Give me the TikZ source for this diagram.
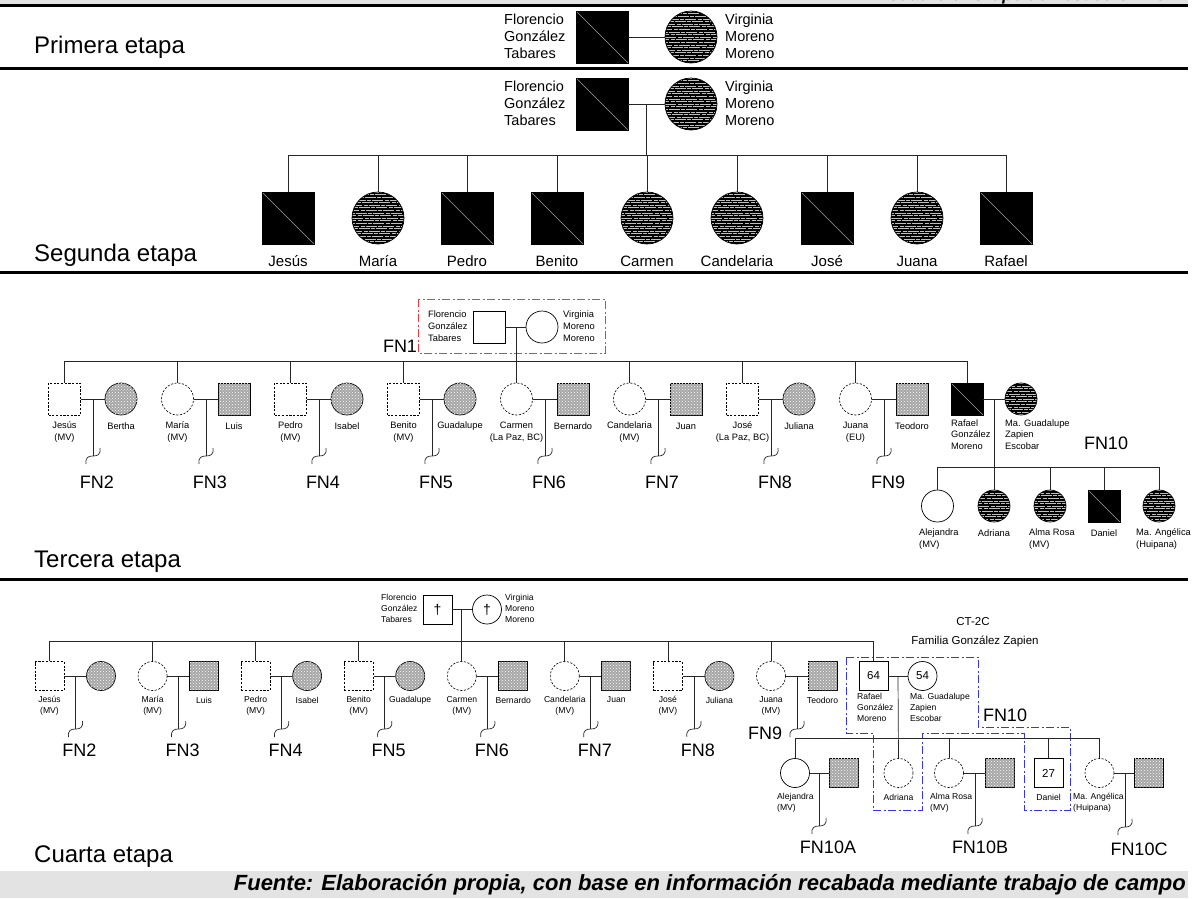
\documentclass[tikz,border=0pt]{standalone}
\usepackage{fontspec}
\setmainfont{Liberation Sans}
\usetikzlibrary{patterns}
\newcommand\fsz[2]{\fontsize{#1}{#2}\selectfont}
\tikzset{
  lnk/.style={line width=0.7pt, draw=black!85},
  pbase/.style={draw=black, line width=0.7pt, inner sep=0pt, minimum size=\ps},
  sqs/.style={pbase, rectangle},
  cis/.style={pbase, circle},
  mvd/.style={dash pattern=on 2.2pt off 1.5pt, line width=0.6pt},
  blk/.style={fill=black, path picture={\draw[gray!75, line width=0.4pt] (path picture bounding box.north west) -- (path picture bounding box.south east);}},
  wav/.style={fill=black, path picture={\foreach \k [evaluate=\k as \ph using {mod(abs(\k)*7,17)}] in {-12,...,12}{\draw[gray!50, line width=0.3pt, dash pattern=on 11pt off 1.5pt on 4pt off 1pt, dash phase=\ph pt] ([yshift=\k*2.6pt]path picture bounding box.west) -- ([yshift=\k*2.6pt]path picture bounding box.east);}}},
  dotp/.style={fill=black!35, postaction={pattern=crosshatch dots, pattern color=white}},
  bsq/.style={sqs, blk}, bci/.style={cis, wav},
  dsq/.style={sqs, mvd}, dci/.style={cis, mvd},
  psq/.style={sqs, dotp}, pci/.style={cis, dotp},
  wsq/.style={sqs, fill=white}, wci/.style={cis, fill=white},
  sep/.style={line width=3pt},
  stage/.style={font=\fsz{24}{26}, anchor=west, inner sep=0pt},
  fn/.style={font=\fsz{18}{20}, inner sep=0pt},
  nmA/.style={font=\fsz{14.5}{17}, inner sep=0pt},
  nmB/.style={font=\fsz{15}{17}, inner sep=0pt},
  nmC/.style={font=\fsz{9.3}{11.7}, inner sep=0pt},
  nmD/.style={font=\fsz{8.6}{10.8}, inner sep=0pt},
  redbox/.style={draw=red!80, line width=0.8pt, dash pattern=on 8pt off 2.5pt on 2pt off 2.5pt},
  bluebox/.style={draw=blue!80, line width=0.8pt, dash pattern=on 8pt off 2.5pt on 2pt off 2.5pt},
}
\newcommand\sqg[1]{\draw[lnk] ([shift={(7,-8)}]#1) .. controls ([shift={(8,-1)}]#1) and ([shift={(4,0)}]#1) .. (#1) .. controls ([shift={(-4,0)}]#1) and ([shift={(-8,1)}]#1) .. ([shift={(-7,8)}]#1);}
% stage 3 couple: id, x, typeA, typeB, nameA, nameB, FN
\newcommand\cplT[7]{%
  \node[#3] (#1a) at (#2,399) {};
  \node[#4] (#1b) at ({#2+56.5},399) {};
  \draw[lnk] (#1a) -- (#1b);
  \draw[lnk] (#1a.north) -- (#1a.north |- s3l);
  \coordinate (#1m) at ({#2+28.5},399);
  \coordinate (#1e) at ({#2+28.5},456);
  \draw[lnk] (#1m) -- (#1e);
  \sqg{#1e}
  \node[nmC, align=center] (#1na) at (#2,432) {#5};
  \node[nmC] (#1nb) at ({#2+56.5},426) {#6};
  \node[fn] (#1f) at ({#2+32.5},482) {#7};
}
% stage 4 couple: id, x, typeA, typeB, nameA, nameB, FN, fn dx, fn y
\newcommand\cplF[9]{%
  \node[#3] (#1a) at (#2,676) {};
  \node[#4] (#1b) at ({#2+51.5},676) {};
  \draw[lnk] (#1a) -- (#1b);
  \draw[lnk] (#1a.north) -- (#1a.north |- s4l);
  \coordinate (#1m) at ({#2+26},676);
  \coordinate (#1e) at ({#2+26},729);
  \draw[lnk] (#1m) -- (#1e);
  \sqg{#1e}
  \node[nmD, align=center] (#1na) at (#2,706) {#5};
  \node[nmD] (#1nb) at ({#2+51.5},700) {#6};
  \node[fn] (#1f) at ({#2+26+#8},#9) {#7};
}
\begin{document}
\begin{tikzpicture}[x=1pt,y=-1pt]
\useasboundingbox (0,0) rectangle (1197,898);
% header / footer
\begin{scope}
\clip (0,0) rectangle (1197,898);
\fill[gray!22] (0,-2) rectangle (1188,5);
\node[font=\fsz{17}{20}\bfseries\itshape, anchor=base east, inner sep=0pt] (hdr) at (1167,0.5) {Cuadro 6. Grupo doméstico CT-2C};
\end{scope}
\draw[sep] (0,5.5) -- (1188,5.5);
\draw[sep] (0,68.5) -- (1188,68.5);
\draw[sep] (0,272.5) -- (1188,272.5);
\draw[sep] (0,579.5) -- (1188,579.5);
\fill[gray!22] (0,871) rectangle (1188,898);
\node[font=\fsz{22}{24}\bfseries\itshape, anchor=east, inner sep=0pt] (src) at (1186,884.5) {Fuente: Elaboración propia, con base en información recabada mediante trabajo de campo};

% ===== Stage 1
\def\ps{52}
\node[bsq] (s1f) at (602,37) {};
\node[bci] (s1v) at (691,37) {};
\draw[lnk] (s1f) -- (s1v);
\node[nmA, align=left, anchor=west] (s1fn) at (504,36) {Florencio\\González\\Tabares};
\node[nmA, align=left, anchor=west] (s1vn) at (725,36) {Virginia\\Moreno\\Moreno};
\node[stage] (st1) at (34,47) {Primera etapa};

% ===== Stage 2
\node[bsq] (s2f) at (602,104) {};
\node[bci] (s2v) at (691,104) {};
\draw[lnk] (s2f) -- (s2v);
\node[nmA, align=left, anchor=west] (s2fn) at (504,103) {Florencio\\González\\Tabares};
\node[nmA, align=left, anchor=west] (s2vn) at (725,103) {Virginia\\Moreno\\Moreno};
\coordinate (s2m) at (646,104);
\coordinate (s2l) at (646,155);
\draw[lnk] (s2m) -- (s2l);
\coordinate (s2a) at (288,155);
\coordinate (s2b) at (1006,155);
\draw[lnk] (s2a) -- (s2b);
\foreach \x/\n/\k in {288/Jesús/1,378/María/0,467/Pedro/1,557/Benito/1,647/Carmen/0,737/Candelaria/0,827/José/1,917/Juana/0,1006/Rafael/1}{
  \ifnum\k=1 \node[bsq] (k\x) at (\x,218) {}; \else \node[bci] (k\x) at (\x,218) {}; \fi
  \draw[lnk] (k\x.north) -- (k\x.north |- s2a);
  \node[nmB] (kn\x) at (\x,261) {\n};
}
\node[stage] (st2) at (34,255) {Segunda etapa};

% ===== Stage 3
\def\ps{32}
\draw[redbox] (418,299) rectangle (605,353);
\node[wsq] (f3) at (489,327) {};
\node[wci] (v3) at (542,327) {};
\draw[lnk] (f3) -- (v3);
\node[nmC, align=left, anchor=west] (f3n) at (428,326) {Florencio\\González\\Tabares};
\node[nmC, align=left, anchor=west] (v3n) at (563,326) {Virginia\\Moreno\\Moreno};
\node[fn] (fn1) at (400,346) {FN1};
\coordinate (s3l) at (64.5,361);
\coordinate (s3r) at (967,361);
\draw[lnk] (s3l) -- (s3r);
\coordinate (f3m) at (516.5,327);
\cplT{j3}{64.5}{dsq}{pci}{Jesús\\(MV)}{Bertha}{FN2}
\cplT{m3}{177.5}{dci}{psq}{María\\(MV)}{Luis}{FN3}
\cplT{p3}{290.5}{dsq}{pci}{Pedro\\(MV)}{Isabel}{FN4}
\cplT{b3}{403.5}{dsq}{pci}{Benito\\(MV)}{Guadalupe}{FN5}
\cplT{c3}{516.5}{dci}{psq}{Carmen\\(La Paz, BC)}{Bernardo}{FN6}
\cplT{d3}{629.5}{dci}{psq}{Candelaria\\(MV)}{Juan}{FN7}
\cplT{o3}{742.5}{dsq}{pci}{José\\(La Paz, BC)}{Juliana}{FN8}
\cplT{u3}{855.5}{dci}{psq}{Juana\\(EU)}{Teodoro}{FN9}
\draw[lnk] (f3m) -- (c3a.north);
% Rafael family stage 3
\node[bsq] (r3) at (967,399) {};
\node[bci] (g3) at (1021,399) {};
\draw[lnk] (r3) -- (g3);
\draw[lnk] (r3.north) -- (s3r);
\node[nmC, align=left, anchor=west] (r3n) at (951,434.5) {Rafael\\González\\Moreno};
\node[nmC, align=left, anchor=west] (g3n) at (1005,434.5) {Ma. Guadalupe\\Zapien\\Escobar};
\node[fn] (fn10a) at (1106,443) {FN10};
\coordinate (r3m) at (994,399);
\coordinate (h3l) at (937.5,467);
\coordinate (h3r) at (1159,467);
\draw[lnk] (h3l) -- (h3r);
\node[wci] (al3) at (937.5,506) {};
\node[bci] (ad3) at (994,506) {};
\node[bci] (ar3) at (1050,506) {};
\node[bsq] (da3) at (1104,506) {};
\node[bci] (an3) at (1159,506) {};
\draw[lnk] (r3m) -- (ad3.north);
\foreach \c in {al3,ar3,da3,an3}{\draw[lnk] (\c.north) -- (\c.north |- h3l);}
\node[nmC, align=left, anchor=west] (al3n) at (919,539) {Alejandra\\(MV)};
\node[nmC] (ad3n) at (994,533) {Adriana};
\node[nmC, align=left, anchor=west] (ar3n) at (1029,539) {Alma Rosa\\(MV)};
\node[nmC] (da3n) at (1104,533) {Daniel};
\node[nmC, align=left, anchor=west] (an3n) at (1136,539) {Ma. Angélica\\(Huipana)};
\node[stage] (st3) at (34,562) {Tercera etapa};

% ===== Stage 4
\def\ps{29}
\node[wsq, font=\fsz{14}{14}] (f4) at (437.5,609.5) {†};
\node[wci, font=\fsz{14}{14}] (v4) at (487,609.5) {†};
\draw[lnk] (f4) -- (v4);
\node[nmD, align=left, anchor=west] (f4n) at (381,608.5) {Florencio\\González\\Tabares};
\node[nmD, align=left, anchor=west] (v4n) at (505,608.5) {Virginia\\Moreno\\Moreno};
\coordinate (s4l) at (49.5,641);
\coordinate (s4r) at (873.5,641);
\draw[lnk] (s4l) -- (s4r);
\coordinate (f4m) at (461.8,609.5);
\cplF{j4}{49.5}{dsq}{pci}{Jesús\\(MV)}{}{FN2}{4}{750}
\cplF{m4}{152.6}{dci}{psq}{María\\(MV)}{Luis}{FN3}{4}{750}
\cplF{p4}{255.6}{dsq}{pci}{Pedro\\(MV)}{Isabel}{FN4}{4}{750}
\cplF{b4}{358.7}{dsq}{pci}{Benito\\(MV)}{Guadalupe}{FN5}{4}{750}
\cplF{c4}{461.8}{dci}{psq}{Carmen\\(MV)}{Bernardo}{FN6}{4}{750}
\cplF{d4}{564.8}{dci}{psq}{Candelaria\\(MV)}{Juan}{FN7}{4}{750}
\cplF{o4}{667.9}{dsq}{pci}{José\\(MV)}{Juliana}{FN8}{4}{750}
\cplF{u4}{771}{dci}{psq}{Juana\\(MV)}{Teodoro}{FN9}{-32}{733}
\draw[lnk] (f4m) -- (c4a.north);
% Rafael family stage 4
\draw[bluebox] (846,657) -- (978,657) -- (978,727) -- (1070,727) -- (1070,810) -- (1024,810) -- (1024,733) -- (922,733) -- (922,810) -- (873,810) -- (873,733) -- (846,733) -- cycle;
\node[wsq, font=\fsz{11.5}{12}] (r4) at (873.5,676) {64};
\node[wci, font=\fsz{11.5}{12}] (g4) at (922.5,676) {54};
\draw[lnk] (r4) -- (g4);
\draw[lnk] (r4.north) -- (s4r);
\node[nmD, align=left, anchor=west] (r4n) at (857,707.5) {Rafael\\González\\Moreno};
\node[nmD, align=left, anchor=west] (g4n) at (910,707.5) {Ma. Guadalupe\\Zapien\\Escobar};
\node[font=\fsz{11.5}{13}] (ct) at (973,622) {CT-2C};
\node[font=\fsz{11.5}{13}] (fam) at (975,641) {Familia González Zapien};
\node[fn] (fn10b) at (1005,715) {FN10};
\coordinate (r4m) at (898,676);
\coordinate (h4l) at (795,738);
\coordinate (h4r) at (1099.5,738);
\draw[lnk] (h4l) -- (h4r);
\node[wci] (al4) at (795,773) {};
\node[psq] (al4s) at (844,773) {};
\node[dci] (ad4) at (898.5,773) {};
\node[dci] (ar4) at (949,773) {};
\node[psq] (ar4s) at (1000,773) {};
\node[wsq, font=\fsz{11.5}{12}] (da4) at (1048.5,773) {27};
\node[dci] (an4) at (1099.5,773) {};
\node[psq] (an4s) at (1149,773) {};
\draw[lnk] (r4m) -- (ad4.north);
\foreach \c in {al4,ar4,da4,an4}{\draw[lnk] (\c.north) -- (\c.north |- h4l);}
\draw[lnk] (al4) -- (al4s);
\draw[lnk] (ar4) -- (ar4s);
\draw[lnk] (an4) -- (an4s);
\coordinate (al4m) at (819,773); \coordinate (al4e) at (819,826);
\coordinate (ar4m) at (975,773); \coordinate (ar4e) at (975,826);
\coordinate (an4m) at (1125,773); \coordinate (an4e) at (1125,827);
\draw[lnk] (al4m) -- (al4e); \sqg{al4e}
\draw[lnk] (ar4m) -- (ar4e); \sqg{ar4e}
\draw[lnk] (an4m) -- (an4e); \sqg{an4e}
\node[fn] (fa) at (828,847) {FN10A};
\node[fn] (fb) at (980,847) {FN10B};
\node[fn] (fc) at (1139,849) {FN10C};
\node[nmD, align=left, anchor=west] (al4n) at (777,803) {Alejandra\\(MV)};
\node[nmD] (ad4n) at (898.5,797) {Adriana};
\node[nmD, align=left, anchor=west] (ar4n) at (930,803) {Alma Rosa\\(MV)};
\node[nmD] (da4n) at (1048.5,797) {Daniel};
\node[nmD, align=left, anchor=west] (an4n) at (1073,803) {Ma. Angélica\\(Huipana)};
\node[stage] (st4) at (34,857) {Cuarta etapa};
\end{tikzpicture}
\end{document}
